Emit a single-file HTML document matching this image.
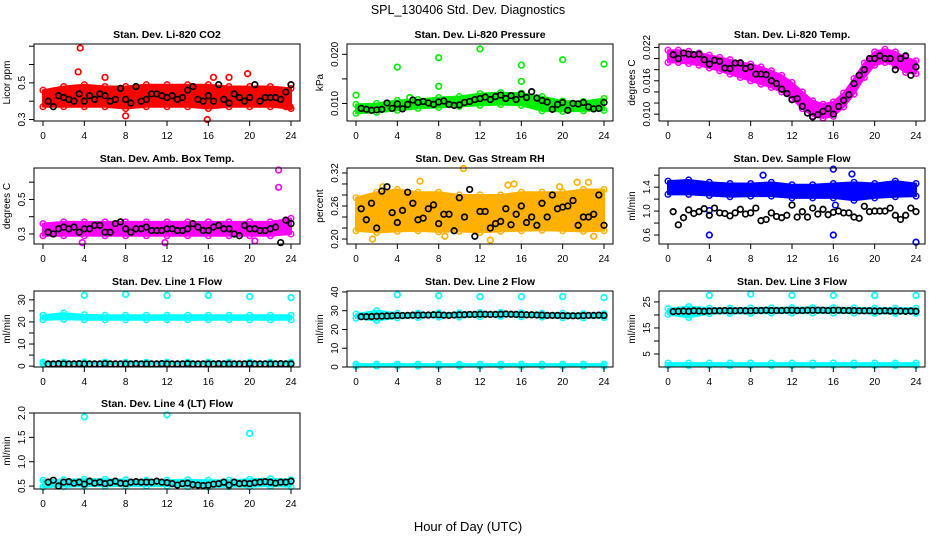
<!DOCTYPE html>
<html><head><meta charset="utf-8"><style>
html,body{margin:0;padding:0;background:#fff;}
svg{display:block;font-family:"Liberation Sans",Arial,sans-serif;}
</style></head><body>
<svg id="chart" width="936" height="540" viewBox="0 0 936 540" xmlns="http://www.w3.org/2000/svg">
<text x="468" y="14" font-size="12.5" text-anchor="middle">SPL_130406  Std. Dev. Diagnostics</text>
<text x="468" y="531" font-size="13" text-anchor="middle">Hour of Day (UTC)</text>
</svg>
<script>
const xTicks = [0,4,8,12,16,20,24];
const blackHours = [0.5,1,1.5,2,2.5,3,3.5,4,4.5,5,5.5,6,6.5,7,7.5,8,8.5,9,9.5,10,10.5,11,11.5,12,12.5,13,13.5,14,14.5,15,15.5,16,16.5,17,17.5,18,18.5,19,19.5,20,20.5,21,21.5,22,22.5,23,23.5,24];
const bandHours = [0,2,4,6,8,10,12,14,16,18,20,22,24];
const tempHours = [0,1,2,3,4,5,6,7,8,9,10,11,12,13,14,15,16,17,18,19,20,21,22,23,24];
const outlierHours = [4,8,12,16,20,24];

// CO2
const co2Lo = [0.37,0.37,0.37,0.37,0.36,0.37,0.37,0.37,0.36,0.37,0.37,0.37,0.36];
const co2Hi = [0.46,0.48,0.49,0.48,0.48,0.49,0.49,0.49,0.49,0.48,0.48,0.48,0.47];
const co2Black = [0.40,0.37,0.43,0.42,0.41,0.40,0.44,0.40,0.43,0.41,0.44,0.43,0.40,0.41,0.47,0.41,0.39,0.48,0.40,0.41,0.44,0.44,0.43,0.42,0.43,0.41,0.42,0.46,0.48,0.41,0.40,0.43,0.40,0.49,0.41,0.39,0.44,0.42,0.40,0.42,0.49,0.40,0.42,0.42,0.42,0.41,0.45,0.49];
const co2OutX = [3.6,3.4,8,15.9,19.8,16.5,18,23.5,6,23.9];
const co2OutY = [0.69,0.56,0.32,0.30,0.55,0.53,0.53,0.37,0.53,0.37];
// Pressure
const presLo = [0.0080,0.0082,0.0086,0.0090,0.0092,0.0094,0.0096,0.0098,0.0096,0.0085,0.0084,0.0085,0.0086];
const presHi = [0.0098,0.0100,0.0106,0.0108,0.0112,0.0114,0.0120,0.0122,0.0121,0.0114,0.0105,0.0104,0.0110];
const presBlack = [0.0090,0.0088,0.0086,0.0087,0.0088,0.0101,0.0090,0.0099,0.0089,0.0098,0.0107,0.0102,0.0104,0.0101,0.0098,0.0103,0.0105,0.0098,0.0096,0.0097,0.0102,0.0104,0.0108,0.0110,0.0113,0.0108,0.0114,0.0117,0.0110,0.0116,0.0108,0.0119,0.0112,0.0124,0.0111,0.0106,0.0103,0.0088,0.0098,0.0102,0.0086,0.0100,0.0099,0.0102,0.0093,0.0089,0.0090,0.0102];
const presOutX = [0,4,8,8,12,16,16,20,24,5.2];
const presOutY = [0.0117,0.0174,0.0193,0.0135,0.0211,0.0178,0.0145,0.0189,0.0180,0.0112];
// Temp
const tempLo = [0.0193,0.0193,0.0191,0.0188,0.0183,0.0178,0.0172,0.0166,0.0160,0.0154,0.0148,0.0140,0.0128,0.0110,0.0097,0.0093,0.0096,0.0113,0.0136,0.0166,0.0188,0.0193,0.0187,0.0175,0.0173];
const tempHi = [0.0215,0.0215,0.0213,0.0210,0.0206,0.0202,0.0198,0.0193,0.0190,0.0185,0.0178,0.0170,0.0157,0.0140,0.0124,0.0118,0.0122,0.0138,0.0164,0.0192,0.0212,0.0217,0.0212,0.0202,0.0196];
const tempBlack = [0.0207,0.0200,0.0210,0.0208,0.0207,0.0208,0.0198,0.0190,0.0197,0.0195,0.0183,0.0182,0.0192,0.0192,0.0182,0.0185,0.0172,0.0172,0.0171,0.0160,0.0155,0.0145,0.0137,0.0126,0.0128,0.0114,0.0102,0.0095,0.0099,0.0105,0.0110,0.0100,0.0114,0.0125,0.0135,0.0155,0.0170,0.0180,0.0200,0.0200,0.0205,0.0200,0.0200,0.0180,0.0200,0.0205,0.0170,0.0185];
// Amb box
const ambLo = [0.29,0.29,0.29,0.29,0.29,0.29,0.29,0.29,0.29,0.29,0.29,0.29,0.30];
const ambHi = [0.36,0.37,0.37,0.37,0.37,0.37,0.37,0.37,0.37,0.37,0.37,0.37,0.39];
const ambBlack = [0.31,0.30,0.33,0.34,0.33,0.34,0.31,0.33,0.33,0.35,0.35,0.31,0.31,0.36,0.37,0.33,0.31,0.33,0.33,0.34,0.32,0.32,0.32,0.33,0.33,0.32,0.32,0.33,0.36,0.34,0.32,0.32,0.34,0.35,0.33,0.33,0.30,0.29,0.35,0.33,0.33,0.32,0.32,0.33,0.34,0.25,0.38,0.36];
const ambOutX = [22.8,22.8,3.8,11.8,20.5];
const ambOutY = [0.67,0.57,0.25,0.25,0.26];
// RH
const rhLo = [0.215,0.212,0.214,0.215,0.213,0.214,0.212,0.214,0.215,0.216,0.215,0.214,0.215];
const rhHi = [0.275,0.285,0.29,0.285,0.285,0.28,0.28,0.28,0.285,0.285,0.285,0.29,0.29];
const rhBlack = [0.255,0.235,0.265,0.22,0.287,0.295,0.248,0.23,0.252,0.285,0.265,0.235,0.238,0.255,0.262,0.228,0.245,0.245,0.215,0.275,0.24,0.29,0.205,0.25,0.25,0.22,0.228,0.232,0.255,0.226,0.245,0.26,0.23,0.24,0.225,0.265,0.24,0.28,0.255,0.258,0.26,0.27,0.225,0.24,0.24,0.245,0.28,0.225];
const rhOutX = [2.6,6.2,10.4,14.7,15.3,19.7,21.4,22.5,1.6,8.6,13,23];
const rhOutY = [0.295,0.305,0.328,0.298,0.30,0.295,0.303,0.303,0.20,0.205,0.198,0.205];
// Sample flow
const sfLo = [1.28,1.28,1.26,1.24,1.25,1.25,1.22,1.22,1.22,1.18,1.22,1.24,1.25];
const sfHi = [1.50,1.52,1.48,1.46,1.46,1.48,1.44,1.44,1.46,1.48,1.46,1.50,1.46];
const sfBlack = [0.99,0.77,0.89,1.02,0.96,0.99,1.04,0.93,1.05,0.97,0.96,0.92,0.97,1.03,0.95,0.97,1.05,0.84,0.86,0.97,0.91,0.89,0.93,1.10,0.90,0.99,0.90,1.05,0.95,1.03,0.94,0.98,1.00,0.97,0.97,0.90,0.88,1.08,0.99,1.00,1.00,1.00,1.05,0.93,0.86,0.93,1.05,0.99];
const sfOutX = [4,16,24,16,4,9.2,16.2,17.8];
const sfOutY = [0.60,0.60,0.48,1.70,1.01,1.60,1.10,1.62];
// Line 1
const l1Lo = [21.0,21.2,21.0,21.0,21.0,21.0,21.0,21.0,21.0,21.0,21.0,21.0,21.0];
const l1Hi = [23.0,24.0,23.2,23.0,23.0,23.0,23.0,23.0,23.0,23.0,23.0,23.0,23.0];
const l1LowLo = [1.0,1.0,1.0,1.0,1.0,1.0,1.0,1.0,1.0,1.0,1.0,1.0,1.0];
const l1LowHi = [1.8,1.8,1.8,1.8,1.8,1.8,1.8,1.8,1.8,1.8,1.8,1.8,1.8];
const l1Black = [1.0,1.0,1.1,1.0,1.0,1.0,1.1,1.0,1.0,1.0,1.0,1.1,1.0,1.0,1.0,1.0,1.0,1.1,1.0,1.0,1.0,1.0,1.1,1.0,1.0,1.0,1.0,1.1,1.0,1.0,1.0,1.0,1.0,1.1,1.0,1.0,1.0,1.0,1.0,1.1,1.0,1.0,1.0,1.0,1.0,1.1,1.0,1.0];
const l1OutY = [32,32.5,32,32,31.5,31];
// Line 2
const l2Lo = [26.0,24.8,26.2,26.4,26.6,26.6,26.8,27.0,26.8,26.6,26.2,26.2,26.4];
const l2Hi = [28.2,30.0,28.6,28.6,28.8,28.8,29.0,29.0,28.8,28.6,28.6,28.4,28.4];
const l2LowLo = [0.5,0.5,0.5,0.5,0.5,0.5,0.5,0.5,0.5,0.5,0.5,0.5,0.5];
const l2LowHi = [1.5,1.5,1.5,1.5,1.5,1.5,1.5,1.5,1.5,1.5,1.5,1.5,1.5];
const l2Black = [26.8,26.8,26.9,27.0,27.1,27.2,27.3,27.5,27.4,27.5,27.6,27.6,27.7,27.7,27.8,27.8,27.6,27.5,27.7,27.8,27.9,28.0,28.0,28.1,28.1,28.0,28.0,28.1,28.2,28.1,28.0,27.9,27.8,27.8,27.7,27.6,27.5,27.5,27.5,27.4,27.3,27.3,27.3,27.4,27.5,27.5,27.6,27.5];
const l2OutY = [38.5,38,37.5,37.5,37.5,37];
// Line 3
const l3Lo = [20.2,19.0,20.5,20.6,20.6,20.7,20.7,20.7,20.7,20.7,20.6,20.6,20.6];
const l3Hi = [22.4,23.2,22.6,22.6,22.7,22.7,22.8,22.8,22.8,22.7,22.6,22.6,22.6];
const l3LowLo = [0.6,0.6,0.6,0.6,0.6,0.6,0.6,0.6,0.6,0.6,0.6,0.6,0.6];
const l3LowHi = [1.5,1.5,1.5,1.5,1.5,1.5,1.5,1.5,1.5,1.5,1.5,1.5,1.5];
const l3Black = [21.3,21.4,21.5,21.4,21.6,21.5,21.4,21.5,21.6,21.6,21.7,21.6,21.6,21.7,21.6,21.6,21.7,21.7,21.8,21.7,21.7,21.7,21.8,21.8,21.7,21.7,21.8,21.8,21.8,21.8,21.7,21.8,21.8,21.7,21.7,21.7,21.6,21.6,21.6,21.5,21.5,21.6,21.5,21.5,21.5,21.4,21.5,21.4];
const l3OutY = [27.5,28,27.5,27.5,27.5,27.5];
// Line 4
const l4Lo = [0.48,0.49,0.50,0.50,0.50,0.50,0.50,0.49,0.48,0.49,0.49,0.50,0.49];
const l4Hi = [0.62,0.63,0.64,0.64,0.63,0.62,0.62,0.63,0.62,0.62,0.64,0.65,0.63];
const l4Black = [0.58,0.62,0.50,0.58,0.59,0.56,0.58,0.54,0.60,0.56,0.58,0.55,0.57,0.60,0.56,0.55,0.58,0.59,0.58,0.58,0.58,0.60,0.58,0.57,0.55,0.52,0.55,0.56,0.53,0.52,0.51,0.52,0.54,0.55,0.58,0.52,0.58,0.55,0.56,0.55,0.57,0.58,0.59,0.58,0.56,0.58,0.58,0.60];
const l4OutX = [4,12,20];
const l4OutY = [1.92,1.96,1.58];

const NS = "http://www.w3.org/2000/svg";
const svg = document.getElementById('chart');
function mk(tag, attrs, parent){ const e=document.createElementNS(NS,tag); for(const k in attrs) e.setAttribute(k,attrs[k]); (parent||svg).appendChild(e); return e; }

const cols=[34,347,659], W=266;
const rows=[[44,121],[168,244],[291,367],[413,489]];

function panel(p){
  const L=cols[p.c], R=L+W, T=rows[p.r][0], B=rows[p.r][1];
  const g=mk('g',{});
  
  
  const xs=h=>L+9+h*(W-18)/24;
  const ys=v=>B-(v-p.ymin)/(p.ymax-p.ymin)*(B-T);
  const t=mk('text',{x:(L+R)/2,y:T-6,'font-size':10.5,'font-weight':'bold','text-anchor':'middle'},g);
  t.textContent=p.title;
  
  
  function band(hrs,lo,hi,color,nm){
    let d='M'+hrs.map((h,i)=>xs(h)+','+ys(hi[i])).join('L');
    for(let i=hrs.length-1;i>=0;i--) d+='L'+xs(hrs[i])+','+ys(lo[i]);
    const pth=mk('path',{d:d+'Z',fill:color,stroke:color,'stroke-width':2,'stroke-linejoin':'round'},g);
    
    
    hrs.forEach((h,i)=>{
      const c1=mk('circle',{cx:xs(h),cy:ys(hi[i]),r:2.8,fill:'none',stroke:color,'stroke-width':1.5},g);
      
      
      const c2=mk('circle',{cx:xs(h),cy:ys(lo[i]),r:2.8,fill:'none',stroke:color,'stroke-width':1.5},g);
      
      
    });
  }
  function pts(xa,ya,color,nm){
    xa.forEach((h,i)=>{
      const c=mk('circle',{cx:xs(h),cy:ys(ya[i]),r:2.8,fill:'none',stroke:color,'stroke-width':1.7},g);
      
      
    });
  }
  p.bands.forEach(b=>band(b[0],b[1],b[2],p.color,'data-cloud'));
  if(p.outX) pts(p.outX,p.outY,p.color,'outlier-point');
  pts(blackHours,p.black,'#000','hourly-mean-point');
  const box=mk('rect',{x:L,y:T,width:W,height:B-T,fill:'none',stroke:'#000','stroke-width':1},g);
  
  
  const xa=mk('g',{},g);
  
  
  mk('line',{x1:xs(0),x2:xs(24),y1:B,y2:B,stroke:'#000'},xa);
  xTicks.forEach(v=>{
    mk('line',{x1:xs(v),x2:xs(v),y1:B,y2:B+5,stroke:'#000'},xa);
    const tl=mk('text',{x:xs(v),y:B+18,'font-size':10,'text-anchor':'middle'},xa);
    tl.textContent=v;
    
    
  });
  const ya=mk('g',{},g);
  
  
  mk('line',{x1:L,x2:L,y1:ys(p.yt[0]),y2:ys(p.yt[p.yt.length-1]),stroke:'#000'},ya);
  p.yt.forEach(v=>mk('line',{x1:L-5,x2:L,y1:ys(v),y2:ys(v),stroke:'#000'},ya));
  p.yl.forEach((v,i)=>{
    const y=ys(p.ylv[i]);
    const tl=mk('text',{x:L-9,y:y,'font-size':10,'text-anchor':'middle',transform:`rotate(-90 ${L-9} ${y})`},ya);
    tl.textContent=v;
    
    
  });
  const yt=mk('text',{x:L-24,y:(T+B)/2,'font-size':10,'text-anchor':'middle',transform:`rotate(-90 ${L-24} ${(T+B)/2})`},g);
  yt.textContent=p.ylab;
  
  
}

panel({name:'panel-co2',c:0,r:0,title:'Stan. Dev. Li-820 CO2',ylab:'Licor ppm',ymin:0.292,ymax:0.712,yt:[0.3,0.4,0.5,0.6,0.7],yl:['0.3','0.5'],ylv:[0.3,0.5],color:'#ff0000',bands:[[bandHours,co2Lo,co2Hi]],black:co2Black,outX:co2OutX,outY:co2OutY});
panel({name:'panel-pressure',c:1,r:0,title:'Stan. Dev. Li-820 Pressure',ylab:'kPa',ymin:0.00643,ymax:0.0221,yt:[0.010,0.015,0.020],yl:['0.010','0.020'],ylv:[0.010,0.020],color:'#00ee00',bands:[[bandHours,presLo,presHi]],black:presBlack,outX:presOutX,outY:presOutY});
panel({name:'panel-temp',c:2,r:0,title:'Stan. Dev. Li-820 Temp.',ylab:'degrees C',ymin:0.00877,ymax:0.02262,yt:[0.010,0.012,0.014,0.016,0.018,0.020,0.022],yl:['0.010','0.016','0.022'],ylv:[0.010,0.016,0.022],color:'#ff00ff',bands:[[tempHours,tempLo,tempHi]],black:tempBlack});
panel({name:'panel-amb-box-temp',c:0,r:1,title:'Stan. Dev. Amb. Box Temp.',ylab:'degrees C',ymin:0.242,ymax:0.682,yt:[0.3,0.4,0.5,0.6],yl:['0.3','0.5'],ylv:[0.3,0.5],color:'#ff00ff',bands:[[bandHours,ambLo,ambHi]],black:ambBlack,outX:ambOutX,outY:ambOutY});
panel({name:'panel-gas-rh',c:1,r:1,title:'Stan. Dev. Gas Stream RH',ylab:'percent',ymin:0.191,ymax:0.329,yt:[0.20,0.22,0.24,0.26,0.28,0.30,0.32],yl:['0.20','0.26','0.32'],ylv:[0.20,0.26,0.32],color:'#ffb000',bands:[[bandHours,rhLo,rhHi]],black:rhBlack,outX:rhOutX,outY:rhOutY});
panel({name:'panel-sample-flow',c:2,r:1,title:'Stan. Dev. Sample Flow',ylab:'ml/min',ymin:0.45,ymax:1.72,yt:[0.6,0.8,1.0,1.2,1.4,1.6],yl:['0.6','1.0','1.4'],ylv:[0.6,1.0,1.4],color:'#0000ff',bands:[[bandHours,sfLo,sfHi]],black:sfBlack,outX:sfOutX,outY:sfOutY});
panel({name:'panel-line1-flow',c:0,r:2,title:'Stan. Dev. Line 1 Flow',ylab:'ml/min',ymin:-0.4,ymax:34,yt:[0,5,10,15,20,25,30],yl:['0','10','20','30'],ylv:[0,10,20,30],color:'#00ffff',bands:[[bandHours,l1Lo,l1Hi],[bandHours,l1LowLo,l1LowHi]],black:l1Black,outX:outlierHours,outY:l1OutY});
panel({name:'panel-line2-flow',c:1,r:2,title:'Stan. Dev. Line 2 Flow',ylab:'ml/min',ymin:0,ymax:40.5,yt:[0,10,20,30,40],yl:['0','10','20','30','40'],ylv:[0,10,20,30,40],color:'#00ffff',bands:[[bandHours,l2Lo,l2Hi],[bandHours,l2LowLo,l2LowHi]],black:l2Black,outX:outlierHours,outY:l2OutY});
panel({name:'panel-line3-flow',c:2,r:2,title:'Stan. Dev. Line 3 Flow',ylab:'ml/min',ymin:0,ymax:29.2,yt:[5,10,15,20,25],yl:['5','15','25'],ylv:[5,15,25],color:'#00ffff',bands:[[bandHours,l3Lo,l3Hi],[bandHours,l3LowLo,l3LowHi]],black:l3Black,outX:outlierHours,outY:l3OutY});
panel({name:'panel-line4-flow',c:0,r:3,title:'Stan. Dev. Line 4 (LT) Flow',ylab:'ml/min',ymin:0.44,ymax:2.0,yt:[0.5,1.0,1.5,2.0],yl:['0.5','1.0','1.5','2.0'],ylv:[0.5,1.0,1.5,2.0],color:'#00ffff',bands:[[bandHours,l4Lo,l4Hi]],black:l4Black,outX:l4OutX,outY:l4OutY});
</script>
</body></html>
